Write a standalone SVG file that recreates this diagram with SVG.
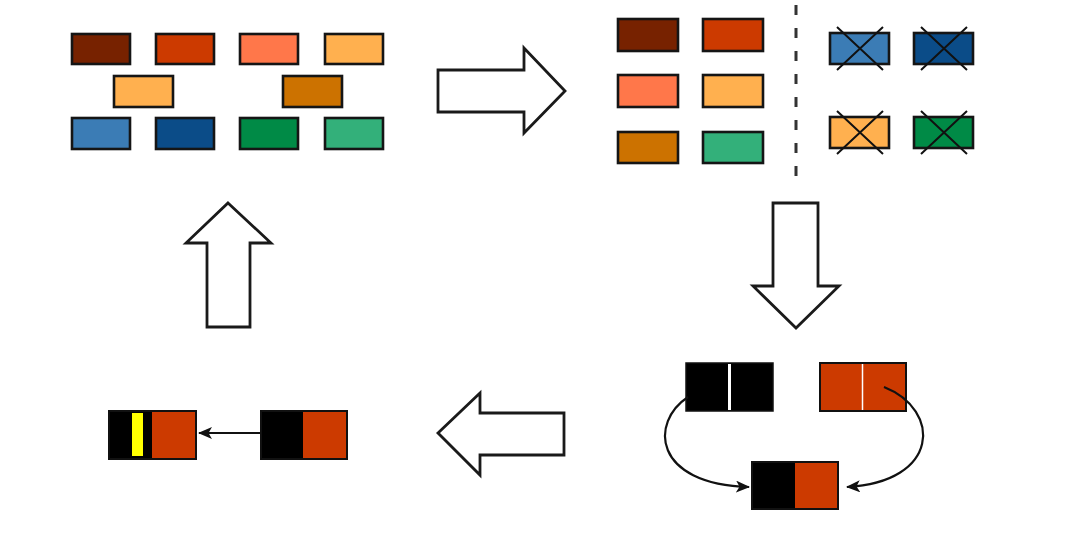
<svg xmlns="http://www.w3.org/2000/svg" width="1072" height="534" viewBox="0 0 1072 534">
<defs>
<style>
.b{stroke:#151515;stroke-width:2.6}
.big{fill:#fff;stroke:#1a1a1a;stroke-width:2.8;stroke-linejoin:miter}
.x{stroke:#111;stroke-width:2;fill:none}
.c1{fill:#772200}.c2{fill:#cc3a00}.c3{fill:#ff774a}.c4{fill:#ffb04f}.c5{fill:#cc7200}
.c6{fill:#3b7cb5}.c7{fill:#0b4c88}.c8{fill:#008a46}.c9{fill:#33b07a}
.conn{fill:none;stroke:#111;stroke-width:2.2}
</style>
<marker id="ah" viewBox="0 0 14 12" refX="13" refY="6" markerWidth="14" markerHeight="12" markerUnits="userSpaceOnUse" orient="auto">
<path d="M0,0 L14,6 L0,12 L3.5,6 Z" fill="#111"/>
</marker>
</defs>
<rect width="1072" height="534" fill="#fff"/>

<g id="pool">
<rect class="b c1" x="72" y="34" width="58" height="30"/>
<rect class="b c2" x="156" y="34" width="58" height="30"/>
<rect class="b c3" x="240" y="34" width="58" height="30"/>
<rect class="b c4" x="325" y="34" width="58" height="30"/>
<rect class="b c4" x="114" y="76" width="59" height="31"/>
<rect class="b c5" x="283" y="76" width="59" height="31"/>
<rect class="b c6" x="72" y="118" width="58" height="31"/>
<rect class="b c7" x="156" y="118" width="58" height="31"/>
<rect class="b c8" x="240" y="118" width="58" height="31"/>
<rect class="b c9" x="325" y="118" width="58" height="31"/>
</g>

<g id="selected">
<rect class="b c1" x="618" y="19" width="60" height="32"/>
<rect class="b c2" x="703" y="19" width="60" height="32"/>
<rect class="b c3" x="618" y="75" width="60" height="32"/>
<rect class="b c4" x="703" y="75" width="60" height="32"/>
<rect class="b c5" x="618" y="132" width="60" height="31"/>
<rect class="b c9" x="703" y="132" width="60" height="31"/>
</g>

<g id="divider">
<line x1="796" y1="5" x2="796" y2="178" stroke="#333" stroke-width="3" stroke-dasharray="10,13"/>
</g>

<g id="rejected">
<rect class="b c6" x="830" y="33" width="59" height="31"/>
<path class="x" d="M837,27 L883,70 M883,27 L837,70"/>
<rect class="b c7" x="914" y="33" width="59" height="31"/>
<path class="x" d="M921,27 L967,70 M967,27 L921,70"/>
<rect class="b c4" x="830" y="117" width="59" height="31"/>
<path class="x" d="M837,111 L883,154 M883,111 L837,154"/>
<rect class="b c8" x="914" y="117" width="59" height="31"/>
<path class="x" d="M921,111 L967,154 M967,111 L921,154"/>
</g>

<g id="parents">
<rect x="686" y="363" width="87" height="48" fill="#000" stroke="#111" stroke-width="1.5"/>
<line x1="729.5" y1="364" x2="729.5" y2="410" stroke="#fff" stroke-width="3"/>
<rect x="820" y="363" width="86" height="48" fill="#cc3a00" stroke="#111" stroke-width="2"/>
<line x1="862.5" y1="364" x2="862.5" y2="410" stroke="#fff" stroke-width="1.5"/>
</g>

<g id="child">
<rect x="752" y="462" width="86" height="47" fill="#000" stroke="#111" stroke-width="2"/>
<rect x="795" y="463" width="42" height="45" fill="#cc3a00"/>
</g>

<g id="mutated">
<rect x="109" y="411" width="87" height="48" fill="#000" stroke="#111" stroke-width="2"/>
<rect x="152" y="412" width="43" height="46" fill="#cc3a00"/>
<rect x="132" y="413" width="11" height="43" fill="#ffff00"/>
</g>

<g id="offspring">
<rect x="261" y="411" width="86" height="48" fill="#000" stroke="#111" stroke-width="2"/>
<rect x="303" y="412" width="43" height="46" fill="#cc3a00"/>
</g>

<g id="connectors">
<polygon class="big" points="438,70 524,70 524,48 565,91 524,133 524,112 438,112"/>
<polygon class="big" points="773,203 818,203 818,286 839,286 796,328 753,286 773,286"/>
<polygon class="big" points="564,413 480,413 480,393 438,433 480,475 480,455 564,455"/>
<polygon class="big" points="228,203 271,243 250,243 250,327 207,327 207,243 186,243"/>
<path class="conn" d="M688,397 C650,422 652,484 749,487" marker-end="url(#ah)"/>
<path class="conn" d="M884,387 C942,410 940,482 847,487" marker-end="url(#ah)"/>
<line class="conn" x1="261" y1="433" x2="199" y2="433" marker-end="url(#ah)"/>
</g>
</svg>
